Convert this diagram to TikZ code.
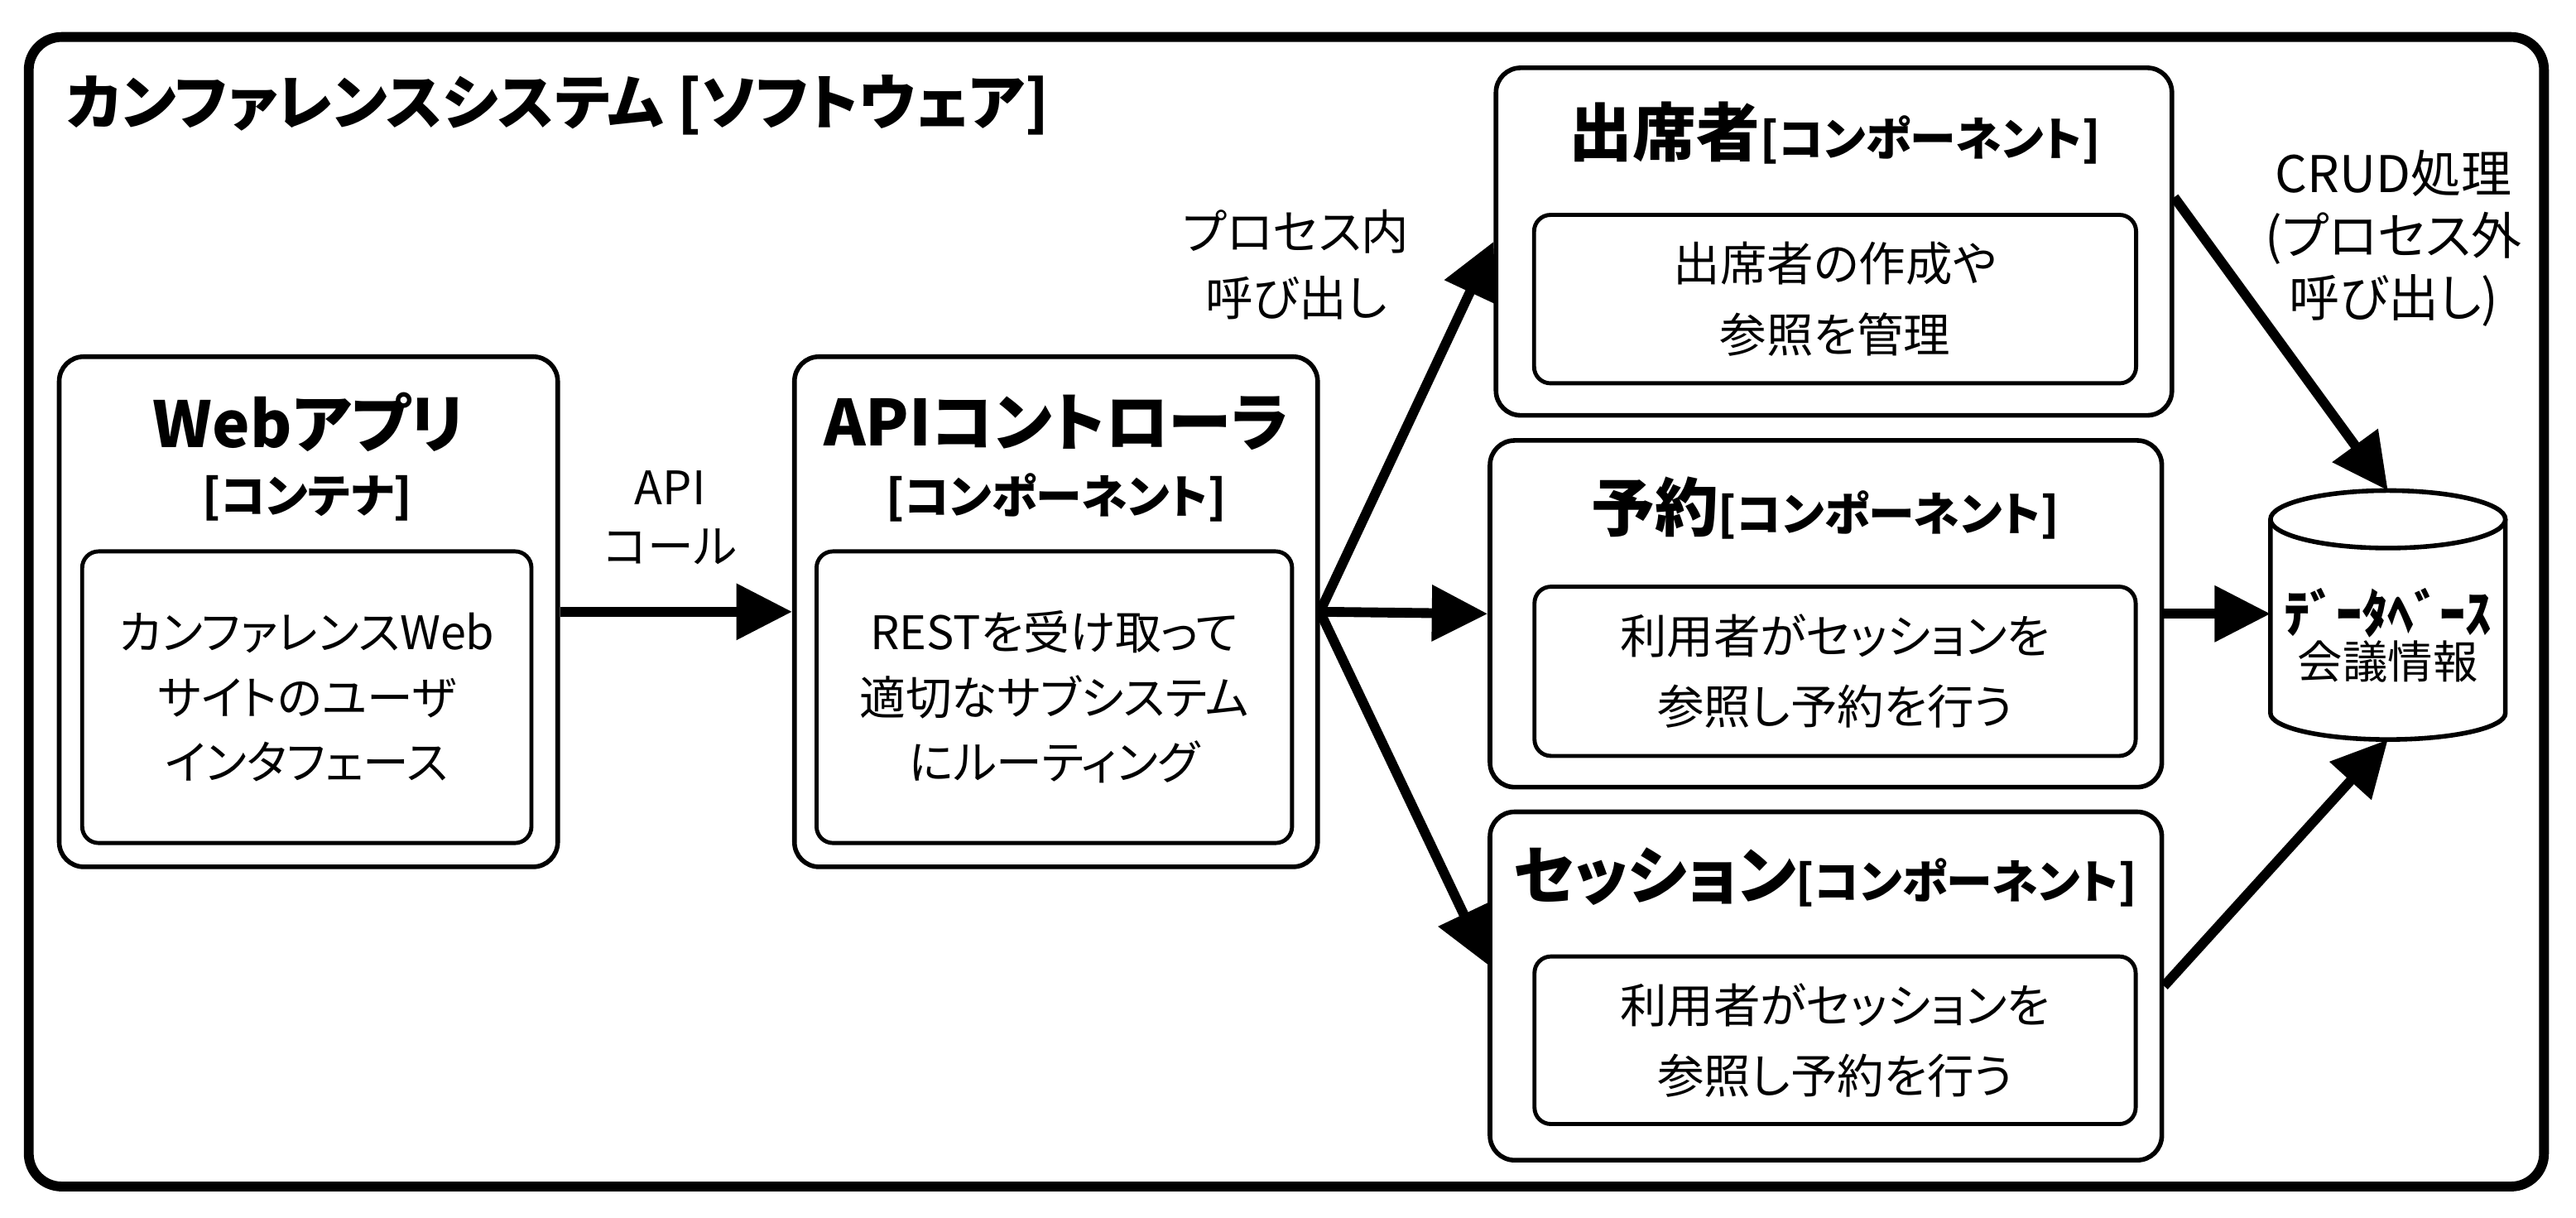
\documentclass[tikz,border=0pt]{standalone}
\usepackage{fontspec}
\setmainfont{Noto Sans CJK JP}[RawFeature=+palt]
\usetikzlibrary{arrows.meta, positioning, calc}
\newcommand{\bodyfont}{\fontsize{16}{22.5}\selectfont}
\newcommand{\kindtag}[1]{{\fontsize{16}{20}\selectfont[#1]}}

\begin{document}
\begin{tikzpicture}[x=0.02cm, y=-0.02cm,
  frame/.style={draw, line width=3.4pt, rounded corners=0.4cm},
  block/.style={draw, line width=1.6pt, rounded corners=0.3cm, fill=white},
  innerbox/.style={draw, line width=1.4pt, rounded corners=0.2cm, align=center, font=\bodyfont},
  heading/.style={font=\bfseries\fontsize{22}{26}\selectfont, inner sep=0pt},
  subheading/.style={font=\bfseries\fontsize{16}{20}\selectfont, inner sep=0pt},
  callnote/.style={align=center, inner sep=0pt, font=\fontsize{16}{20.5}\selectfont},
  dbline/.style={draw, line width=1.6pt, fill=white},
  call/.style={-{Triangle[length=0.68cm, width=0.66cm]}, line width=3.4pt}]
\useasboundingbox (0,0) rectangle (1568,741);
\fill[white] (0,0) rectangle (1568,741);
\draw[frame] (17.5,22.5) rectangle (1548.5,722);
\node[anchor=west, inner sep=0pt, font=\bfseries\fontsize{20.8}{24}\selectfont] (systitle) at (40,64) {カンファレンスシステム [ソフトウェア]};

% web app container
\node[block, minimum width=6.07cm, minimum height=6.21cm] (web) at (187.75,372.25) {};
\node[heading] (webtitle) at (188,257) {Webアプリ};
\node[subheading] (webkind) at (187,303) {[コンテナ]};
\node[innerbox, minimum width=5.47cm, minimum height=3.55cm] (webinner) at (186.75,424.25) {カンファレンスWeb\\サイトのユーザ\\インタフェース};

% api controller
\node[block, minimum width=6.37cm, minimum height=6.21cm] (api) at (642.8,372.25) {};
\node[heading] (apititle) at (643,257) {APIコントローラ};
\node[subheading] (apikind) at (643,303) {[コンポーネント]};
\node[innerbox, minimum width=5.79cm, minimum height=3.55cm] (apiinner) at (641.75,424.25) {RESTを受け取って\\適切なサブシステム\\にルーティング};

% components
\node[block, minimum width=8.23cm, minimum height=4.23cm] (att) at (1116.3,147) {};
\node[heading] (atttitle) at (1117,81) {出席者\kindtag{コンポーネント}};
\node[innerbox, minimum width=7.33cm, minimum height=2.05cm, font=\fontsize{16.2}{24.5}\selectfont] (attinner) at (1117,182) {出席者の作成や\\参照を管理};

\node[block, minimum width=8.18cm, minimum height=4.22cm] (rsv) at (1111.4,373.5) {};
\node[heading] (rsvtitle) at (1111,309) {予約\kindtag{コンポーネント}};
\node[innerbox, minimum width=7.32cm, minimum height=2.06cm, font=\fontsize{16.2}{24.5}\selectfont] (rsvinner) at (1117,408.5) {利用者がセッションを\\参照し予約を行う};

\node[block, minimum width=8.18cm, minimum height=4.24cm] (ses) at (1111.4,600) {};
\node[heading] (sestitle) at (1111,534) {セッション\kindtag{コンポーネント}};
\node[innerbox, minimum width=7.32cm, minimum height=2.04cm, font=\fontsize{16.2}{24.5}\selectfont] (sesinner) at (1117,633) {利用者がセッションを\\参照し予約を行う};

% database
\draw[dbline] (1382,316) -- (1382,434) arc[start angle=180, end angle=360, x radius=1.43cm, y radius=0.32cm] -- (1525,316);
\draw[dbline] (1453.5,316) ellipse[x radius=1.43cm, y radius=0.35cm];
\node[align=center, inner sep=0pt] (db) at (1453.5,386.5) {{\bfseries\fontsize{18}{20}\selectfont ﾃﾞｰﾀﾍﾞｰｽ}\\{\fontsize{15.6}{20}\selectfont 会議情報}};
\coordinate (dbtop) at (1453.5,298.5);
\coordinate (dbwest) at (1382,375);
\coordinate (dbbot) at (1453.5,450);

% calls
\draw[call] (web.east) -- (api.west);
\draw[call] (api.east) -- (att.west);
\draw[call] (api.east) -- (rsv.west);
\draw[call] (api.east) -- ([yshift=0.26cm]ses.west);
\draw[call] ([yshift=0.54cm]att.east) -- (dbtop);
\draw[call] (rsv.east) -- (rsv.east -| dbwest);
\draw[call] (ses.east) -- (dbbot);

\node[callnote] (apinote) at (408,315) {API\\コール};
\node[callnote, font=\fontsize{16.5}{22.8}\selectfont] (inprocnote) at (789,161) {プロセス内\\呼び出し};
\node[callnote, font=\fontsize{17.5}{21.5}\selectfont] (crudnote) at (1457,145) {CRUD処理\\(プロセス外\\呼び出し)};
\end{tikzpicture}
\end{document}
